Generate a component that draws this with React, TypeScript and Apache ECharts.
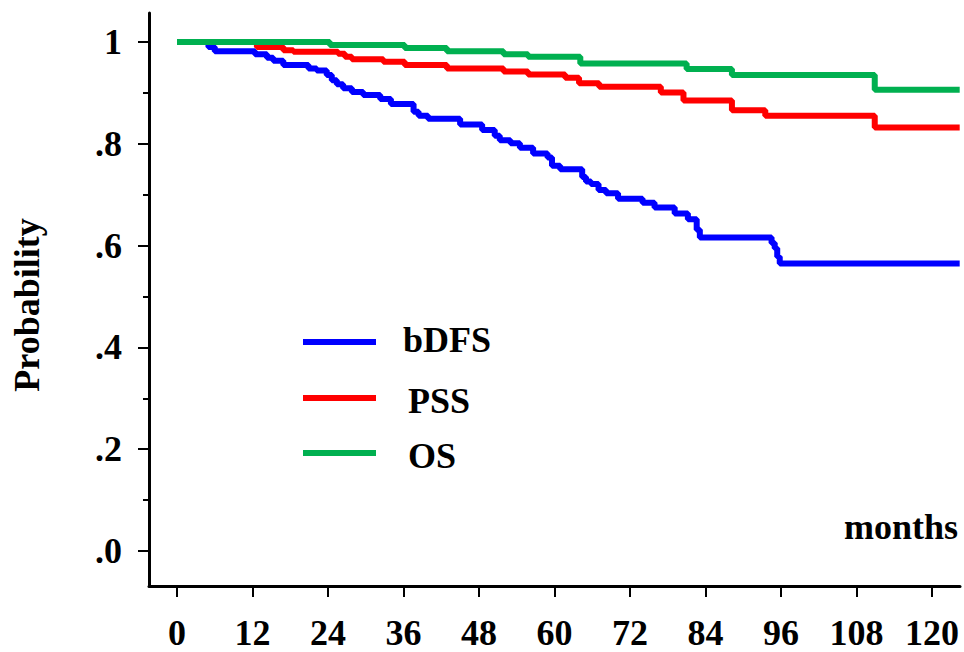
import React, { useEffect, useRef } from "react";
import * as echarts from "echarts";

const seriesNames = ["bDFS", "PSS", "OS"];
const seriesColors = ["#0000FF", "#FF0000", "#00B050"];

const bdfsTimes = [0, 5.0, 6.0, 12.4, 14.3, 15.3, 16.9, 20.9, 22.2, 23.8, 24.6, 25.4, 26.4, 27.8, 29.6, 32.3, 34.0, 37.6, 38.4, 39.9, 45.0, 48.5, 50.5, 51.3, 53.0, 54.5, 56.6, 58.9, 59.6, 60.9, 64.4, 65.0, 65.8, 67.0, 68.2, 70.1, 74.0, 75.9, 79.1, 81.2, 82.6, 83.1, 94.5, 95.0, 95.4, 95.8, 124.4];
const bdfsSurv = [1, 0.990, 0.982, 0.976, 0.969, 0.963, 0.955, 0.948, 0.944, 0.935, 0.925, 0.917, 0.909, 0.902, 0.896, 0.888, 0.878, 0.863, 0.855, 0.849, 0.838, 0.827, 0.816, 0.807, 0.801, 0.792, 0.781, 0.773, 0.757, 0.750, 0.735, 0.726, 0.721, 0.709, 0.703, 0.692, 0.684, 0.675, 0.663, 0.652, 0.631, 0.616, 0.605, 0.595, 0.578, 0.565, 0.565];

const pssTimes = [0, 12.7, 16.9, 18.5, 25.6, 26.7, 27.8, 32.8, 36.2, 42.9, 51.9, 55.8, 61.7, 63.9, 67.1, 76.9, 80.5, 88.2, 93.5, 110.9, 124.4];
const pssSurv = [1, 0.990, 0.984, 0.981, 0.977, 0.971, 0.966, 0.961, 0.955, 0.948, 0.942, 0.936, 0.930, 0.919, 0.912, 0.901, 0.885, 0.866, 0.855, 0.832, 0.832];

const osTimes = [0, 24.3, 36.2, 42.9, 51.9, 55.8, 64.1, 81.0, 88.2, 110.9, 124.4];
const osSurv = [1, 0.994, 0.988, 0.982, 0.976, 0.971, 0.958, 0.947, 0.935, 0.906, 0.906];

const xTicks = [0, 12, 24, 36, 48, 60, 72, 84, 96, 108, 120];
const yTicks = [0, 0.2, 0.4, 0.6, 0.8, 1];
const yMinorTicks = [0.1, 0.3, 0.5, 0.7, 0.9];

const FONT = "'Liberation Serif', 'Times New Roman', Times, serif";

function zip(a: number[], b: number[]) {
  return a.map((t, i) => [t, b[i]]);
}

export default function App() {
  const ref = useRef<HTMLDivElement>(null);
  useEffect(() => {
    if (!ref.current) return;
    const chart = echarts.init(ref.current, null, { renderer: "svg" });
    const allTimes = [bdfsTimes, pssTimes, osTimes];
    const allSurv = [bdfsSurv, pssSurv, osSurv];
    const legendY = [342, 398, 453];
    const legendTextX = [403, 408, 408];
    const legendTextY = [340, 401, 456];
    const graphics: any[] = [];
    seriesNames.forEach((name, i) => {
      graphics.push({
        type: "line",
        shape: { x1: 303, y1: legendY[i], x2: 376, y2: legendY[i] },
        style: { stroke: seriesColors[i], lineWidth: 6 },
      });
      graphics.push({
        type: "text",
        x: legendTextX[i],
        y: legendTextY[i],
        style: {
          text: name,
          font: `bold 36px ${FONT}`,
          fill: "#000",
          align: "left",
          verticalAlign: "middle",
        },
      });
    });
    graphics.push({
      type: "text",
      x: 958,
      y: 527,
      style: {
        text: "months",
        font: `bold 36px ${FONT}`,
        fill: "#000",
        align: "right",
        verticalAlign: "middle",
      },
    });
    graphics.push({
      type: "text",
      x: 27,
      y: 305,
      rotation: Math.PI / 2,
      style: {
        text: "Probability",
        font: `bold 36px ${FONT}`,
        fill: "#000",
        align: "center",
        verticalAlign: "middle",
      },
    });

    const yMin = (551 - 586) / 509;
    const yMax = (551 - 13) / 509;
    const xMin = (149 - 177) / 6.2917;
    const xMax = (960 - 177) / 6.2917;

    chart.setOption({
      animation: false,
      backgroundColor: "#fff",
      grid: { left: 149, right: 4, top: 13, bottom: 66, containLabel: false, outerBoundsMode: "none" },
      xAxis: {
        type: "value",
        min: xMin,
        max: xMax,
        position: "bottom",
        axisLine: { show: true, onZero: false, lineStyle: { color: "#000", width: 3 } },
        axisTick: { show: true, customValues: xTicks, length: 11, lineStyle: { color: "#000", width: 2 } },
        axisLabel: {
          customValues: xTicks,
          margin: 33,
          lineHeight: 28,
          color: "#000",
          fontFamily: FONT,
          fontWeight: "bold",
          fontSize: 36,
        },
        splitLine: { show: false },
      },
      yAxis: [
        {
          type: "value",
          min: yMin,
          max: yMax,
          position: "left",
          axisLine: { show: true, onZero: false, lineStyle: { color: "#000", width: 3 } },
          axisTick: { show: true, customValues: yTicks, length: 11, lineStyle: { color: "#000", width: 2 } },
          axisLabel: {
            customValues: yTicks,
            margin: 27,
            color: "#000",
            fontFamily: FONT,
            fontWeight: "bold",
            fontSize: 36,
            formatter: (v: number) => (Math.abs(v - 1) < 1e-9 ? "1" : "." + Math.round(v * 10)),
          },
          splitLine: { show: false },
        },
        {
          type: "value",
          min: yMin,
          max: yMax,
          position: "left",
          offset: 0,
          axisLine: { show: false, onZero: false },
          axisTick: { show: true, customValues: yMinorTicks, length: 6, lineStyle: { color: "#000", width: 2 } },
          axisLabel: { show: false },
          splitLine: { show: false },
        },
      ],
      series: seriesNames.map((name, i) => ({
        name,
        type: "line",
        step: "end",
        showSymbol: false,
        symbol: "none",
        yAxisIndex: 0,
        data: zip(allTimes[i], allSurv[i]),
        lineStyle: { color: seriesColors[i], width: 6 },
        itemStyle: { color: seriesColors[i] },
        z: 2 + i,
      })),
      graphic: graphics,
    });
    return () => chart.dispose();
  }, []);
  return <div ref={ref} style={{ position: "fixed", left: 0, top: 0, width: 964, height: 652 }} />;
}
